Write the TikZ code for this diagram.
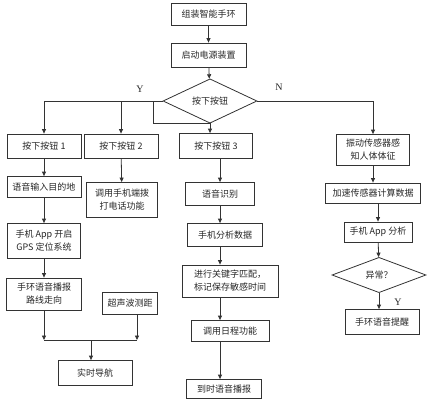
\documentclass[tikz,border=0pt]{standalone}
\usepackage{fontspec}
\setmainfont{Liberation Serif}
\newfontfamily\cjk{Noto Sans CJK SC}
\usetikzlibrary{shapes.geometric,arrows.meta}

\begin{document}
\begin{tikzpicture}[x=1pt,y=-1pt]
\tikzstyle{every node}+=[inner sep=0pt, align=center, text=black!85, font={\cjk\fontsize{9}{13}\selectfont}]
\tikzstyle{box}=[draw=black!80, line width=0.8pt, minimum height=24pt]
\tikzstyle{test}=[draw=black!80, line width=0.8pt, diamond, minimum width=94pt, minimum height=32pt]
\tikzstyle{arr}=[draw=black!80, line width=0.8pt, -{Triangle[length=4.5pt,width=4pt]}]
\tikzstyle{line}=[draw=black!80, line width=0.8pt]
\tikzstyle{ynlabel}=[font={\rmfamily\fontsize{10}{12}\selectfont}]
\useasboundingbox (0,0) rectangle (428,400);
\node [box, minimum width=75pt, minimum height=22pt] (build) at (208.5,14) {组装智能手环};
\node [box, minimum width=75pt] (power) at (208.5,55) {启动电源装置};
\node [test] (press) at (210,101) {按下按钮};
\node [box, minimum width=74pt] (key1) at (44,146) {按下按钮 1};
\node [box, minimum width=74pt] (key2) at (121,146) {按下按钮 2};
\node [box, minimum width=73pt, minimum height=25pt] (key3) at (216,146) {按下按钮 3};
\node [box, minimum width=73pt, minimum height=31pt] (shake) at (373,150) {振动传感器感\\知人体体征};
\node [box, minimum width=74pt, minimum height=21pt] (dest) at (44,187) {语音输入目的地};
\node [box, minimum width=73pt, minimum height=35pt] (gps) at (44,241) {手机 App 开启\\GPS 定位系统};
\node [box, minimum width=75pt, minimum height=32pt] (route) at (44,294) {手环语音播报\\路线走向};
\node [box, minimum width=55pt, minimum height=22pt] (sonar) at (130,303) {超声波测距};
\node [box, minimum width=74pt, minimum height=25pt] (nav) at (95,373) {实时导航};
\node [box, minimum width=71pt, minimum height=35pt] (call) at (122,200) {调用手机端拨\\打电话功能};
\node [box, minimum width=69pt, minimum height=23pt] (recog) at (220,194) {语音识别};
\node [box, minimum width=75pt, minimum height=23pt] (parse) at (225,235) {手机分析数据};
\node [box, minimum width=96pt, minimum height=32pt] (match) at (230,281) {进行关键字匹配，\\标记保存敏感时间};
\node [box, minimum width=78pt, minimum height=21pt] (plan) at (230,331) {调用日程功能};
\node [box, minimum width=75pt, minimum height=19pt] (alarm) at (224,389) {到时语音播报};
\node [box, minimum width=95pt, minimum height=20pt] (accel) at (373,193) {加速传感器计算数据};
\node [box, minimum width=68pt, minimum height=20pt] (app) at (378,232) {手机 App 分析};
\node [test, minimum height=31pt] (odd) at (379,275) {异常？};
\node [box, minimum width=74pt, minimum height=25pt] (warn) at (382,322) {手环语音提醒};
\node [ynlabel] (yes) at (140,89) {Y};
\node [ynlabel] (no) at (279,87) {N};
\node [ynlabel] (yes2) at (398,302) {Y};
\coordinate (split) at (153,101);
\coordinate (mid) at (220,0);
\coordinate (joinL) at (44,340);
\coordinate (joinR) at (137,340);
\coordinate (join) at (91,340);
\draw [arr] (build) -- (power);
\draw [arr] (power) -- (press);
\draw [arr] (press.west) -| (key1);
\draw [arr] (press.west -| key2) -- (key2);
\draw [arr] (split) -- ++(0,22) -| (key3.north -| press);
\draw [arr] (press.east) -| (shake);
\draw [arr] (key1) -- (dest);
\draw [arr] (dest) -- (gps);
\draw [arr] (gps) -- (route);
\draw [arr] (route) -- (joinL);
\draw [arr] (sonar.south -| joinR) -- (joinR);
\draw [line] (joinL) -- (joinR);
\draw [arr] (join) -- (nav.north -| join);
\draw [arr] (key2) -- (call);
\draw [arr] (key3.south -| mid) -- (recog.north -| mid);
\draw [arr] (recog.south -| mid) -- (parse.north -| mid);
\draw [arr] (parse.south -| mid) -- (match.north -| mid);
\draw [arr] (match.south -| mid) -- (plan.north -| mid);
\draw [arr] (plan.south -| mid) -- (alarm.north -| mid);
\draw [arr] (shake) -- (accel);
\draw [arr] (accel.south -| app) -- (app);
\draw [arr] (app) -- (odd);
\draw [arr] (odd.south) -- (odd.south |- warn.north);
\end{tikzpicture}
\end{document}
